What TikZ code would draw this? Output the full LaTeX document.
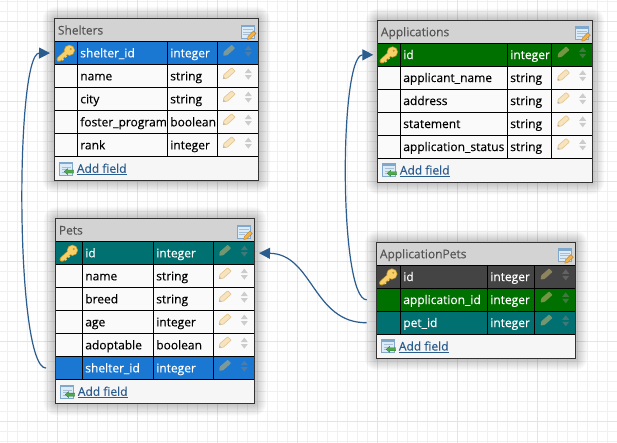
\documentclass[tikz,border=0pt]{standalone}
\usepackage{fontspec}
\setmainfont{Open Sans}[RawFeature={embolden=0.25}]
\usetikzlibrary{arrows.meta,calc}
\definecolor{gridminor}{HTML}{F0F0F0}
\definecolor{gridmajor}{HTML}{E4E4E4}
\definecolor{headgrey}{HTML}{D3D3D3}
\definecolor{footwhite}{HTML}{F6F6F6}
\definecolor{rowwhite}{HTML}{FAFAFA}
\definecolor{rowblue}{HTML}{1A78D2}
\definecolor{rowgreen}{HTML}{007000}
\definecolor{rowteal}{HTML}{007070}
\definecolor{rowdark}{HTML}{444444}
\definecolor{linkblue}{HTML}{2B5C8E}
\definecolor{titlegrey}{HTML}{555555}
\definecolor{penfill}{HTML}{F7E4BF}
\definecolor{penedge}{HTML}{E4C791}
\definecolor{penover}{HTML}{BFB070}
\definecolor{keyfill}{HTML}{F7D06A}
\definecolor{keyedge}{HTML}{C4962A}
\definecolor{iconfill}{HTML}{DCEBF8}
\definecolor{iconedge}{HTML}{7FA8CC}
\definecolor{iconline}{HTML}{A9BFD2}
\definecolor{iconpen}{HTML}{F3B24A}
\definecolor{iconpenedge}{HTML}{B9812A}
\definecolor{addgreen}{HTML}{4FA84F}
\definecolor{addgreenedge}{HTML}{2F7A2F}
\tikzset{
  x=1pt,y=-1pt,
  cellbase/.style={draw=black,line width=1pt,anchor=north west,outer sep=0pt,inner xsep=3pt,inner ysep=0pt,
    text height=11.5pt,text depth=3pt,minimum height=23pt,align=left,font=\fontsize{12}{14}\selectfont},
  look plain/.style={text=black},
  look sel/.style={text=white},
  conn/.style={draw=linkblue,line width=1.2pt,-{Triangle[length=11pt,width=11pt]}},
  titlelabel/.style={anchor=west,inner sep=0pt,text=titlegrey,text height=11.5pt,text depth=3pt,font=\fontsize{12}{14}\selectfont},
  addlabel/.style={anchor=west,inner sep=0pt,text=linkblue,text height=11.5pt,text depth=3pt,font=\fontsize{12}{14}\selectfont},
  pencilshape/.pic={
    \path[pic actions,rounded corners=0.6pt] (-5.6,4.7) -- (-5,0.6) -- (2.9,-6.3) -- (6.3,-2.9) -- (-1.5,4.1) -- cycle;
  },
  pen plain/.pic={
    \pic[fill=penfill,draw=penedge,line width=.7pt] {pencilshape};
    \fill[black!30] (-5.6,4.7) -- (-5.1,2.8) -- (-3.6,4.2) -- cycle;
  },
  pen sel/.pic={
    \pic[fill=penover,fill opacity=.6,draw=none] {pencilshape};
  },
  updown plain/.pic={
    \fill[black!20] (-3.5,-1) -- (3.5,-1) -- (0,-5.5) -- cycle;
    \fill[black!20] (-3.5,1) -- (3.5,1) -- (0,5.5) -- cycle;
  },
  updown sel/.pic={
    \fill[black!50!white,fill opacity=.5] (-3.5,-1) -- (3.5,-1) -- (0,-5.5) -- cycle;
    \fill[black!50!white,fill opacity=.5] (-3.5,1) -- (3.5,1) -- (0,5.5) -- cycle;
  },
  keyicon/.pic={
    \draw[line width=5pt,line cap=round,draw=keyedge] (-7,6.2) -- (2,-2);
    \draw[line width=2.8pt,draw=keyedge] (-5,4.4) -- (-2.8,7) (-2,1.6) -- (0.4,4);
    \fill[keyedge] (3.4,-2.8) circle (5.6pt);
    \draw[line width=3.6pt,line cap=round,draw=keyfill] (-7,6.2) -- (2,-2);
    \draw[line width=1.5pt,draw=keyfill] (-5,4.4) -- (-2.8,7) (-2,1.6) -- (0.4,4);
    \fill[keyfill] (3.4,-2.8) circle (4.8pt);
    \fill[keyedge] (4.7,-4.1) circle (1.1pt);
  },
  tableicon/.pic={
    \fill[iconfill,draw=iconedge,line width=.7pt] (0,0) rectangle (13.5,13);
    \fill[iconedge] (0,0) rectangle (13.5,2.2);
    \draw[iconline,line width=.7pt] (2,4.5) -- (11.5,4.5) (2,7) -- (11.5,7) (2,9.5) -- (8,9.5);
    \fill[iconpen,draw=iconpenedge,line width=.4pt] (6.5,14.5) -- (7,11.5) -- (12.5,6) -- (15,8.5) -- (9.5,13.8) -- cycle;
  },
  addicon/.pic={
    \fill[iconfill,draw=iconedge,line width=.7pt] (0,0) rectangle (13,13);
    \fill[iconedge] (0,0) rectangle (13,2.2);
    \draw[iconline,line width=.7pt] (2,5) -- (11,5) (2,7.5) -- (6,7.5) (2,10) -- (6,10);
    \fill[addgreen,draw=addgreenedge,line width=.3pt] (4.5,9.5) -- (8,6.5) -- (8,8) -- (14,8) -- (14,11) -- (8,11) -- (8,12.5) -- cycle;
  },
}
% prefix, title, L, c1, c2, c3, R, top, rows
\newcommand\ertablebox[9]{%
  \pgfmathsetmacro\wkey{#4-#3}%
  \pgfmathsetmacro\wname{#5-#4-6}%
  \pgfmathsetmacro\wtype{#6-#5-6}%
  \pgfmathsetmacro\wctl{#7-#6}%
  \foreach \nrows [count=\nn] in {#9} {\xdef\ertotal{\nn}}%
  \pgfmathsetmacro\ybottom{#8+22.6+23*\ertotal+24}%
  \foreach \s in {1,...,12}
    \fill[black,opacity=.02,rounded corners=\s pt] (#3-\s,#8-\s) rectangle (#7+\s,\ybottom+\s);
  \fill[headgrey] (#3,#8) rectangle (#7,#8+22.6);
  \fill[footwhite] (#3,#8+22.6) rectangle (#7,\ybottom);
  \node[titlelabel] (#1-title) at (#3+3,#8+11.3) {#2};
  \pic at (#7-17,#8+6) {tableicon};
  \foreach \nm/\ty/\fc/\look/\hk [count=\i from 0] in {#9} {
    \pgfmathsetmacro\ry{#8+22.6+\i*23}
    \node[cellbase,fill=\fc,minimum width=\wkey pt] (#1-\i-k) at (#3,\ry) {};
    \node[cellbase,look \look,fill=\fc,text width=\wname pt] (#1-\i) at (#4,\ry) {\mbox{\nm}};
    \node[cellbase,look \look,fill=\fc,text width=\wtype pt] (#1-\i-t) at (#5,\ry) {\mbox{\ty}};
    \node[cellbase,fill=\fc,minimum width=\wctl pt] (#1-\i-c) at (#6,\ry) {};
    \pic at ([xshift=11.5pt,yshift=2pt]#1-\i-c.west) {pen \look};
    \pic at ([xshift=31pt,yshift=2pt]#1-\i-c.west) {updown \look};
    \ifnum\hk=1 \pic at (#1-\i-k.center) {keyicon}; \fi
  }
  \pic at (#3+5,\ybottom-18.5) {addicon};
  \node[addlabel] (#1-add) at (#3+22,\ybottom-12) {\underline{Add field}};
  \draw[draw=black!80,line width=1pt] (#3,#8) rectangle (#7,\ybottom);
}
\begin{document}
\begin{tikzpicture}
\useasboundingbox (0,0) rectangle (617,443);
\fill[white] (0,0) rectangle (617,443);
\foreach \gx in {7.3,17.3,...,617} \draw[gridminor,line width=1pt] (\gx,0) -- (\gx,443);
\foreach \gy in {1.7,11.7,...,443} \draw[gridminor,line width=1pt] (0,\gy) -- (617,\gy);
\foreach \gx in {57.3,137.3,...,617} \draw[gridmajor,line width=1pt] (\gx,0) -- (\gx,443);
\foreach \gy in {21.7,101.7,...,443} \draw[gridmajor,line width=1pt] (0,\gy) -- (617,\gy);

\ertablebox{shelters}{Shelters}{54.7}{77.3}{167.3}{217.3}{258}{19}{%
  shelter\_id/integer/rowblue/sel/1,
  name/string/rowwhite/plain/0,
  city/string/rowwhite/plain/0,
  foster\_program/boolean/rowwhite/plain/0,
  rank/integer/rowwhite/plain/0}
\ertablebox{applications}{Applications}{377.7}{400.3}{507.3}{551.7}{592.3}{20.7}{%
  id/integer/rowgreen/sel/1,
  applicant\_name/string/rowwhite/plain/0,
  address/string/rowwhite/plain/0,
  statement/string/rowwhite/plain/0,
  application\_status/string/rowwhite/plain/0}
\ertablebox{pets}{Pets}{55.7}{82.3}{153.3}{213.3}{254.3}{219}{%
  id/integer/rowteal/sel/1,
  name/string/rowwhite/plain/0,
  breed/string/rowwhite/plain/0,
  age/integer/rowwhite/plain/0,
  adoptable/boolean/rowwhite/plain/0,
  shelter\_id/integer/rowblue/sel/0}
\ertablebox{apppets}{ApplicationPets}{376.7}{400.3}{487.3}{534.7}{575.3}{242.7}{%
  id/integer/rowdark/sel/1,
  application\_id/integer/rowgreen/sel/0,
  pet\_id/integer/rowteal/sel/0}

\coordinate (shFrom) at ([xshift=-9.7pt]pets-5-k.west);
\coordinate (shTo) at ([xshift=-4.7pt]shelters-0-k.west);
\coordinate (apFrom) at ([xshift=-10pt]apppets-1-k.west);
\coordinate (apTo) at ([xshift=-4.4pt]applications-0-k.west);
\coordinate (peFrom) at ([xshift=-10pt]apppets-2-k.west);
\coordinate (peTo) at ([xshift=4.7pt]pets-0-c.east);
\draw[conn] (shFrom) .. controls +(-31,0) and (15,53) .. (shTo);
\draw[conn] (apFrom) .. controls +(-28,0) and (339,55) .. (apTo);
\draw[conn] (peFrom) .. controls +(-54,0) and (313,254) .. (peTo);
\end{tikzpicture}
\end{document}
